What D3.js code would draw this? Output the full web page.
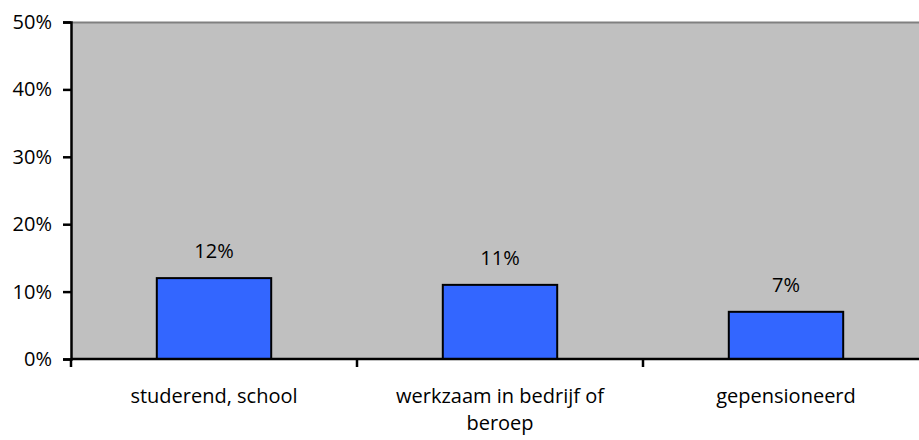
<!DOCTYPE html>
<html>
<head>
<meta charset="utf-8">
<script src="https://cdn.jsdelivr.net/npm/d3@7"></script>
<style>
  html, body { margin: 0; padding: 0; background: #fff; }
  svg { display: block; }
  text { font-family: "Open Sans", sans-serif; fill: #000; }
</style>
</head>
<body>
<svg id="chart" width="919" height="440"></svg>
<script>
const categories = ["studerend, school", "werkzaam in bedrijf of beroep", "gepensioneerd"];
const values = [0.12, 0.11, 0.07];
const valueLabels = ["12%", "11%", "7%"];
const yTicks = [0, 0.1, 0.2, 0.3, 0.4, 0.5];
const yTickLabels = ["0%", "10%", "20%", "30%", "40%", "50%"];

(function () {
const svg = d3.select("#chart");
const pLeft = 71, pRight = 929, pTop = 22, pBottom = 359;
const fontSize = 20;
const ff = "'Open Sans', sans-serif";

const x = d3.scaleBand().domain(categories).range([pLeft, pRight]).paddingInner(0.6).paddingOuter(0.3);
const y = d3.scaleLinear().domain([0, 0.5]).range([pBottom, pTop]);

svg.append("rect").attr("x", pLeft).attr("y", pTop).attr("width", pRight - pLeft).attr("height", pBottom - pTop)
  .attr("fill", "#C0C0C0");
svg.append("line").attr("x1", pLeft).attr("x2", pRight).attr("y1", pTop + 0.5).attr("y2", pTop + 0.5)
  .attr("stroke", "#808080").attr("stroke-width", 2);

svg.selectAll("rect.bar").data(categories).enter().append("rect").attr("class", "bar")
  .attr("x", d => x(d)).attr("width", x.bandwidth())
  .attr("y", (d, i) => y(values[i])).attr("height", (d, i) => y(0) - y(values[i]))
  .attr("fill", "#3366FF").attr("stroke", "#000").attr("stroke-width", 2);

svg.selectAll("text.val").data(categories).enter().append("text").attr("class", "val")
  .attr("x", d => x(d) + x.bandwidth() / 2)
  .attr("y", (d, i) => y(values[i]) - 20)
  .attr("text-anchor", "middle").attr("font-size", fontSize)
  .text((d, i) => valueLabels[i]);

const yAxis = d3.axisLeft(y).tickValues(yTicks).tickFormat((d, i) => yTickLabels[i]).tickSize(8).tickPadding(11);
const gy = svg.append("g").attr("transform", `translate(${pLeft},0)`).call(yAxis);
gy.select(".domain").attr("stroke", "#000").attr("stroke-width", 2.5);
gy.selectAll(".tick line").attr("stroke", "#000").attr("stroke-width", 2.5);
gy.selectAll(".tick text").attr("font-size", fontSize).attr("font-family", ff).attr("fill", "#000");

const boundaries = [pLeft, pLeft + x.step(), pLeft + 2 * x.step()];
svg.selectAll("line.xt").data(boundaries).enter().append("line").attr("class", "xt")
  .attr("x1", d => d).attr("x2", d => d).attr("y1", pBottom).attr("y2", pBottom + 8)
  .attr("stroke", "#000").attr("stroke-width", 2.5);
svg.append("line").attr("x1", pLeft).attr("x2", pRight).attr("y1", pBottom).attr("y2", pBottom)
  .attr("stroke", "#000").attr("stroke-width", 2.5);

const maxW = 240;
categories.forEach(c => {
  const cx = x(c) + x.bandwidth() / 2;
  const t = svg.append("text").attr("x", cx).attr("y", 403)
    .attr("text-anchor", "middle").attr("font-size", fontSize);
  const words = c.split(" ");
  let line = [];
  let ts = t.append("tspan").attr("x", cx).attr("dy", 0);
  words.forEach(w => {
    line.push(w);
    ts.text(line.join(" "));
    if (ts.node().getComputedTextLength() > maxW && line.length > 1) {
      line.pop();
      ts.text(line.join(" "));
      line = [w];
      ts = t.append("tspan").attr("x", cx).attr("dy", 27).text(w);
    }
  });
});
})();
</script>
</body>
</html>
